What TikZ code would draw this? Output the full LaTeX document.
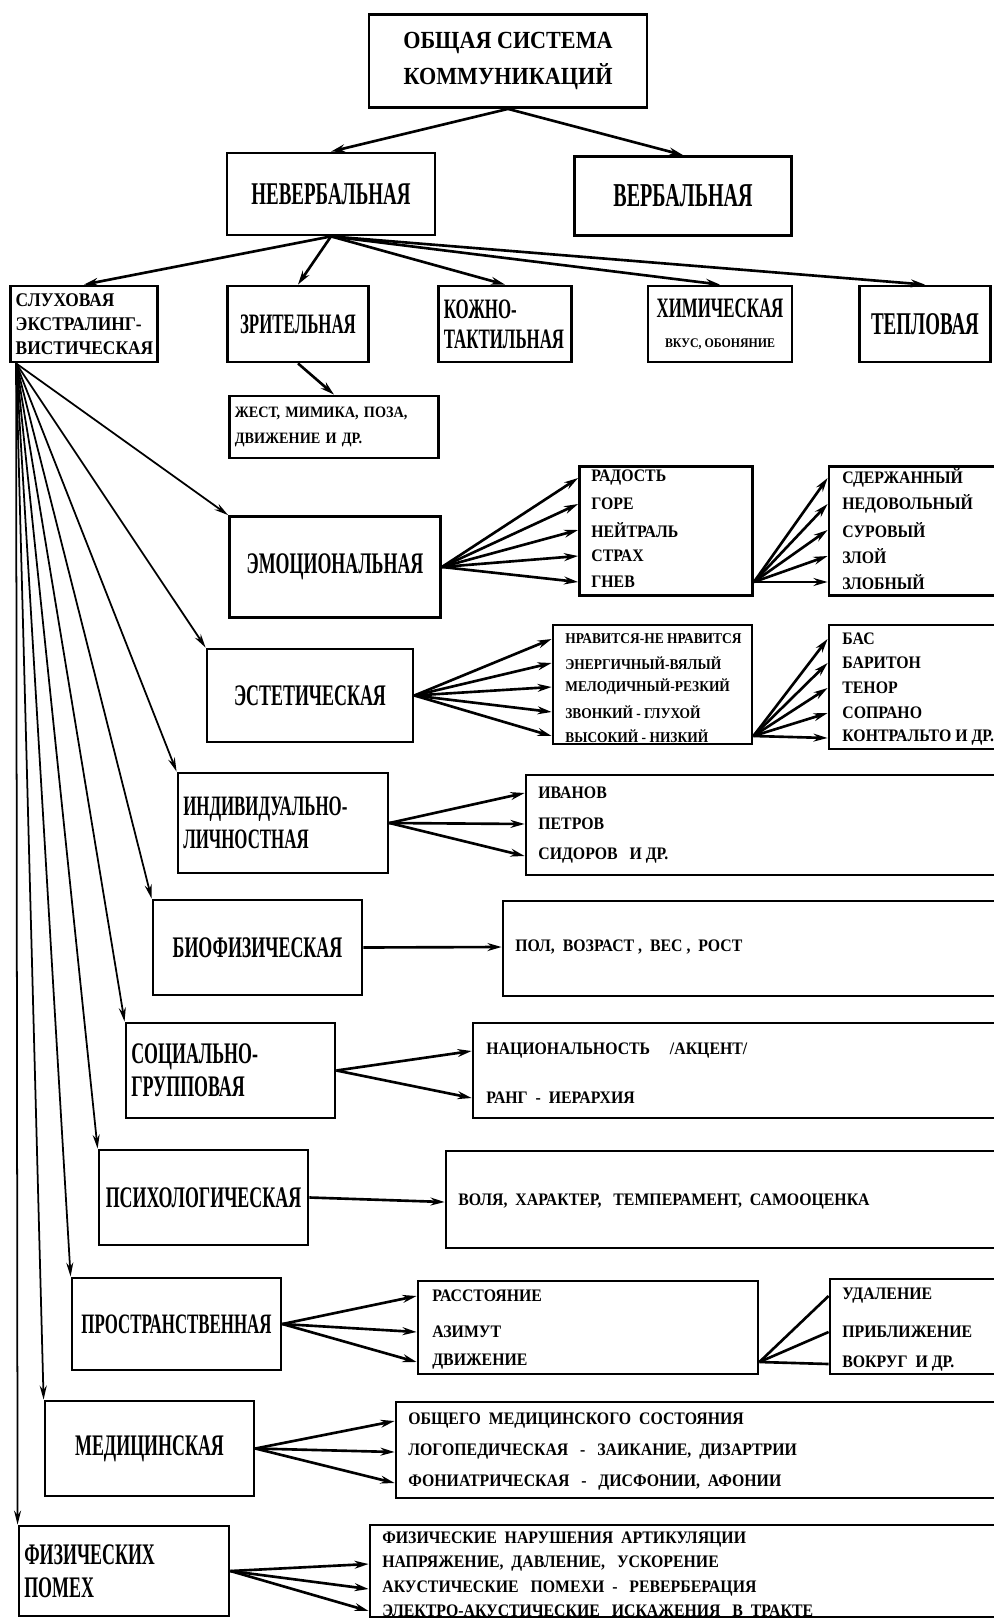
\documentclass[tikz,border=0pt]{standalone}
\usepackage{fontspec}
\usetikzlibrary{arrows.meta}
\setmainfont{Liberation Serif}
\newfontfamily\boxfont[FakeStretch=0.6]{Liberation Serif}
\newfontfamily\itemfont[FakeStretch=0.9]{Liberation Serif}

\begin{document}
\begin{tikzpicture}[
	cat/.style={draw, line width=1.6pt, inner sep=3pt, align=center, font=\boxfont\bfseries\fontsize{17}{20}\selectfont},
	lst/.style={draw, line width=1.6pt},
	itm/.style={anchor=west, inner sep=0pt, font=\itemfont\bfseries\fontsize{10}{12}\selectfont},
	itms/.style={itm, font=\itemfont\bfseries\fontsize{8.5}{10}\selectfont},
	arr/.style={line width=1.5pt, -{Stealth[length=8pt,width=4.5pt]}},
	fan/.style={line width=1pt, -{Stealth[length=8pt,width=4pt]}}]
	\useasboundingbox (0,0) rectangle (19.86,-32.4);

	% top levels
	\node[cat, minimum width=5.56cm, minimum height=1.86cm, font=\itemfont\bfseries\fontsize{14}{20}\selectfont] (obsh) at (10.16,-1.22) {ОБЩАЯ СИСТЕМА\\КОММУНИКАЦИЙ};
	\node[cat, minimum width=4.16cm, minimum height=1.64cm, font=\boxfont\bfseries\fontsize{18}{20}\selectfont] (nev) at (6.62,-3.88) {НЕВЕРБАЛЬНАЯ};
	\node[cat, minimum width=4.34cm, minimum height=1.58cm, font=\boxfont\bfseries\fontsize{19}{20}\selectfont] (verb) at (13.66,-3.92) {ВЕРБАЛЬНАЯ};

	% channels
	\node[cat, minimum height=1.52cm, text width=2.73cm, align=left, font=\itemfont\bfseries\fontsize{11}{13.6}\selectfont] (sluh) at (1.68,-6.48) {СЛУХОВАЯ\\ЭКСТРАЛИНГ-\\ВИСТИЧЕСКАЯ};
	\node[cat, minimum width=2.82cm, minimum height=1.52cm, font=\boxfont\bfseries\fontsize{16}{18}\selectfont] (zrit) at (5.96,-6.48) {ЗРИТЕЛЬНАЯ};
	\node[cat, minimum height=1.52cm, text width=2.45cm, align=left, font=\boxfont\bfseries\fontsize{16}{17}\selectfont] (kozh) at (10.10,-6.48) {КОЖНО-\\ТАКТИЛЬНАЯ};
	\node[cat, minimum width=2.88cm, minimum height=1.52cm, font=\boxfont\bfseries\fontsize{16}{17}\selectfont] (him) at (14.40,-6.48) {ХИМИЧЕСКАЯ\\{\itemfont\fontsize{7.5}{9}\selectfont ВКУС, ОБОНЯНИЕ}};
	\node[cat, minimum width=2.62cm, minimum height=1.52cm, font=\boxfont\bfseries\fontsize{18}{20}\selectfont] (tepl) at (18.50,-6.48) {ТЕПЛОВАЯ};
	\node[cat, minimum height=1.24cm, text width=3.97cm, align=left, font=\itemfont\bfseries\fontsize{9}{14.7}\selectfont] (zhest) at (6.68,-8.54) {ЖЕСТ, МИМИКА, ПОЗА,\\ДВИЖЕНИЕ И ДР.};

	\draw[arr] (obsh.south) -- (nev.north);
	\draw[arr] (obsh.south) -- (verb.north);
	\foreach \n in {sluh,zrit,kozh,him,tepl}
		\draw[arr] (nev.south) -- (\n.north);
	\draw[arr] (zrit.south) -- (zhest.north);

	% emotional
	\node[cat, minimum width=4.22cm, minimum height=2.02cm] (emo) at (6.70,-11.34) {ЭМОЦИОНАЛЬНАЯ};
	\node[lst, minimum width=3.46cm, minimum height=2.58cm] (emoL) at (13.32,-10.62) {};
	\node[itm] (emoA1) at (11.82,-9.56) {РАДОСТЬ};
	\node[itm] (emoA2) at (11.82,-10.08) {ГОРЕ};
	\node[itm] (emoA3) at (11.82,-10.60) {НЕЙТРАЛЬ};
	\node[itm] (emoA4) at (11.82,-11.12) {СТРАХ};
	\node[itm] (emoA5) at (11.82,-11.64) {ГНЕВ};
	\node[lst, minimum width=3.42cm, minimum height=2.58cm] (emoR) at (18.29,-10.62) {};
	\node[itm] (emoB1) at (16.84,-9.56) {СДЕРЖАННЫЙ};
	\node[itm] (emoB2) at (16.84,-10.08) {НЕДОВОЛЬНЫЙ};
	\node[itm] (emoB3) at (16.84,-10.60) {СУРОВЫЙ};
	\node[itm] (emoB4) at (16.84,-11.12) {ЗЛОЙ};
	\node[itm] (emoB5) at (16.84,-11.64) {ЗЛОБНЫЙ};
	\foreach \i in {1,...,5}
		\draw[arr] (emo.east) -- (emoL.west |- emoA\i);
	\foreach \i in {1,...,5}
		\draw[arr] (emoL.east |- emoA5) -- (emoR.west |- emoB\i);

	% aesthetic
	\node[cat, minimum width=4.12cm, minimum height=1.86cm] (est) at (6.20,-13.91) {ЭСТЕТИЧЕСКАЯ};
	\node[lst, minimum width=3.98cm, minimum height=2.38cm] (estL) at (13.05,-13.69) {};
	\node[itms] (estA1) at (11.30,-12.78) {НРАВИТСЯ-НЕ НРАВИТСЯ};
	\node[itms] (estA2) at (11.30,-13.26) {ЭНЕРГИЧНЫЙ-ВЯЛЫЙ};
	\node[itms] (estA3) at (11.30,-13.74) {МЕЛОДИЧНЫЙ-РЕЗКИЙ};
	\node[itms] (estA4) at (11.30,-14.24) {ЗВОНКИЙ - ГЛУХОЙ};
	\node[itms] (estA5) at (11.30,-14.72) {ВЫСОКИЙ - НИЗКИЙ};
	\node[lst, minimum width=3.42cm, minimum height=2.48cm] (estR) at (18.29,-13.74) {};
	\node[itm] (estB1) at (16.84,-12.78) {БАС};
	\node[itm] (estB2) at (16.84,-13.26) {БАРИТОН};
	\node[itm] (estB3) at (16.84,-13.76) {ТЕНОР};
	\node[itm] (estB4) at (16.84,-14.26) {СОПРАНО};
	\node[itm] (estB5) at (16.84,-14.76) {КОНТРАЛЬТО И ДР.};
	\foreach \i in {1,...,5}
		\draw[arr] (est.east) -- (estL.west |- estA\i);
	\foreach \i in {1,...,5}
		\draw[arr] (estL.east |- estA5) -- (estR.west |- estB\i);

	% individual
	\node[cat, minimum height=2.00cm, text width=3.99cm, align=left, font=\boxfont\bfseries\fontsize{16}{19}\selectfont] (ind) at (5.66,-16.46) {ИНДИВИДУАЛЬНО-\\ЛИЧНОСТНАЯ};
	\node[lst, minimum width=9.48cm, minimum height=2.00cm] (indL) at (15.26,-16.50) {};
	\node[itm] (indA1) at (10.76,-15.86) {ИВАНОВ};
	\node[itm] (indA2) at (10.76,-16.48) {ПЕТРОВ};
	\node[itm] (indA3) at (10.76,-17.12) {СИДОРОВ\ \ \ И ДР.};
	\foreach \i in {1,2,3}
		\draw[arr] (ind.east) -- (indL.west |- indA\i);

	% biophysical
	\node[cat, minimum width=4.18cm, minimum height=1.90cm] (bio) at (5.15,-18.95) {БИОФИЗИЧЕСКАЯ};
	\node[lst, minimum width=9.94cm, minimum height=1.90cm] (bioL) at (15.03,-18.97) {};
	\node[itm] (bioA1) at (10.30,-18.94) {ПОЛ,\ \ ВОЗРАСТ\ ,\ \ ВЕС\ ,\ \ РОСТ};
	\draw[arr] (bio.east) -- (bioL.west |- bioA1);

	% social
	\node[cat, minimum height=1.90cm, text width=3.97cm, align=left, font=\boxfont\bfseries\fontsize{17}{19}\selectfont] (soc) at (4.61,-21.41) {СОЦИАЛЬНО-\\ГРУППОВАЯ};
	\node[lst, minimum width=10.54cm, minimum height=1.90cm] (socL) at (14.73,-21.41) {};
	\node[itm] (socA1) at (9.72,-21.02) {НАЦИОНАЛЬНОСТЬ\ \ \ \ \ /АКЦЕНТ/};
	\node[itm] (socA2) at (9.72,-21.96) {РАНГ\ \ -\ \ ИЕРАРХИЯ};
	\foreach \i in {1,2}
		\draw[arr] (soc.east) -- (socL.west |- socA\i);

	% psychological
	\node[cat, minimum width=4.18cm, minimum height=1.90cm] (psy) at (4.07,-23.95) {ПСИХОЛОГИЧЕСКАЯ};
	\node[lst, minimum width=11.08cm, minimum height=1.94cm] (psyL) at (14.46,-23.99) {};
	\node[itm] (psyA1) at (9.16,-24.04) {ВОЛЯ,\ \ ХАРАКТЕР,\ \ \ ТЕМПЕРАМЕНТ,\ \ САМООЦЕНКА};
	\draw[arr] (psy.east) -- (psyL.west |- psyA1);

	% spatial
	\node[cat, minimum width=4.18cm, minimum height=1.84cm, inner sep=1pt, font=\boxfont\bfseries\fontsize{16}{19}\selectfont] (pro) at (3.53,-26.48) {ПРОСТРАНСТВЕННАЯ};
	\node[lst, minimum width=6.80cm, minimum height=1.86cm] (proL) at (11.76,-26.55) {};
	\node[itm] (proA1) at (8.64,-25.92) {РАССТОЯНИЕ};
	\node[itm] (proA2) at (8.64,-26.64) {АЗИМУТ};
	\node[itm] (proA3) at (8.64,-27.24) {ДВИЖЕНИЕ};
	\node[lst, minimum width=3.40cm, minimum height=1.90cm] (proR) at (18.30,-26.53) {};
	\node[itm] (proB1) at (16.84,-25.92) {УДАЛЕНИЕ};
	\node[itm] (proB2) at (16.84,-26.64) {ПРИБЛИЖЕНИЕ};
	\node[itm] (proB3) at (16.84,-27.28) {ВОКРУГ\ \ И ДР.};
	\foreach \i in {1,2,3}
		\draw[arr] (pro.east) -- (proL.west |- proA\i);
	\foreach \i in {1,2,3}
		\draw[line width=1.5pt] (proL.east |- proA3) -- (proR.west |- proB\i);

	% medical
	\node[cat, minimum width=4.18cm, minimum height=1.90cm] (med) at (2.99,-28.97) {МЕДИЦИНСКАЯ};
	\node[lst, minimum width=12.08cm, minimum height=1.92cm] (medL) at (13.96,-29.00) {};
	\node[itm] (medA1) at (8.16,-28.42) {ОБЩЕГО\ \ МЕДИЦИНСКОГО\ \ СОСТОЯНИЯ};
	\node[itm] (medA2) at (8.16,-29.04) {ЛОГОПЕДИЧЕСКАЯ\ \ \ -\ \ \ ЗАИКАНИЕ,\ \ ДИЗАРТРИИ};
	\node[itm] (medA3) at (8.16,-29.66) {ФОНИАТРИЧЕСКАЯ\ \ \ -\ \ \ ДИСФОНИИ,\ \ АФОНИИ};
	\foreach \i in {1,2,3}
		\draw[arr] (med.east) -- (medL.west |- medA\i);

	% noise
	\node[cat, minimum height=1.80cm, text width=3.99cm, align=left, font=\boxfont\bfseries\fontsize{17}{19}\selectfont] (phy) at (2.48,-31.42) {ФИЗИЧЕСКИХ\\ПОМЕХ};
	\node[lst, minimum width=12.60cm, minimum height=1.84cm] (phyL) at (13.70,-31.42) {};
	\node[itm] (phyA1) at (7.64,-30.80) {ФИЗИЧЕСКИЕ\ \ НАРУШЕНИЯ\ \ АРТИКУЛЯЦИИ};
	\node[itm] (phyA2) at (7.64,-31.28) {НАПРЯЖЕНИЕ,\ \ ДАВЛЕНИЕ,\ \ \ УСКОРЕНИЕ};
	\node[itm] (phyA3) at (7.64,-31.78) {АКУСТИЧЕСКИЕ\ \ \ ПОМЕХИ\ \ -\ \ \ РЕВЕРБЕРАЦИЯ};
	\node[itm] (phyA4) at (7.64,-32.22) {ЭЛЕКТРО-АКУСТИЧЕСКИЕ\ \ \ ИСКАЖЕНИЯ\ \ \ В\ \ ТРАКТЕ};
	\foreach \i in {2,3,4}
		\draw[arr] (phy.east) -- (phyL.west |- phyA\i);

	% fan of the auditory branch
	\foreach \n in {emo,est,ind,bio,soc,psy,pro,med,phy}
		\draw[fan] ([xshift=4pt]sluh.south west) -- (\n.north west);
\end{tikzpicture}
\end{document}
